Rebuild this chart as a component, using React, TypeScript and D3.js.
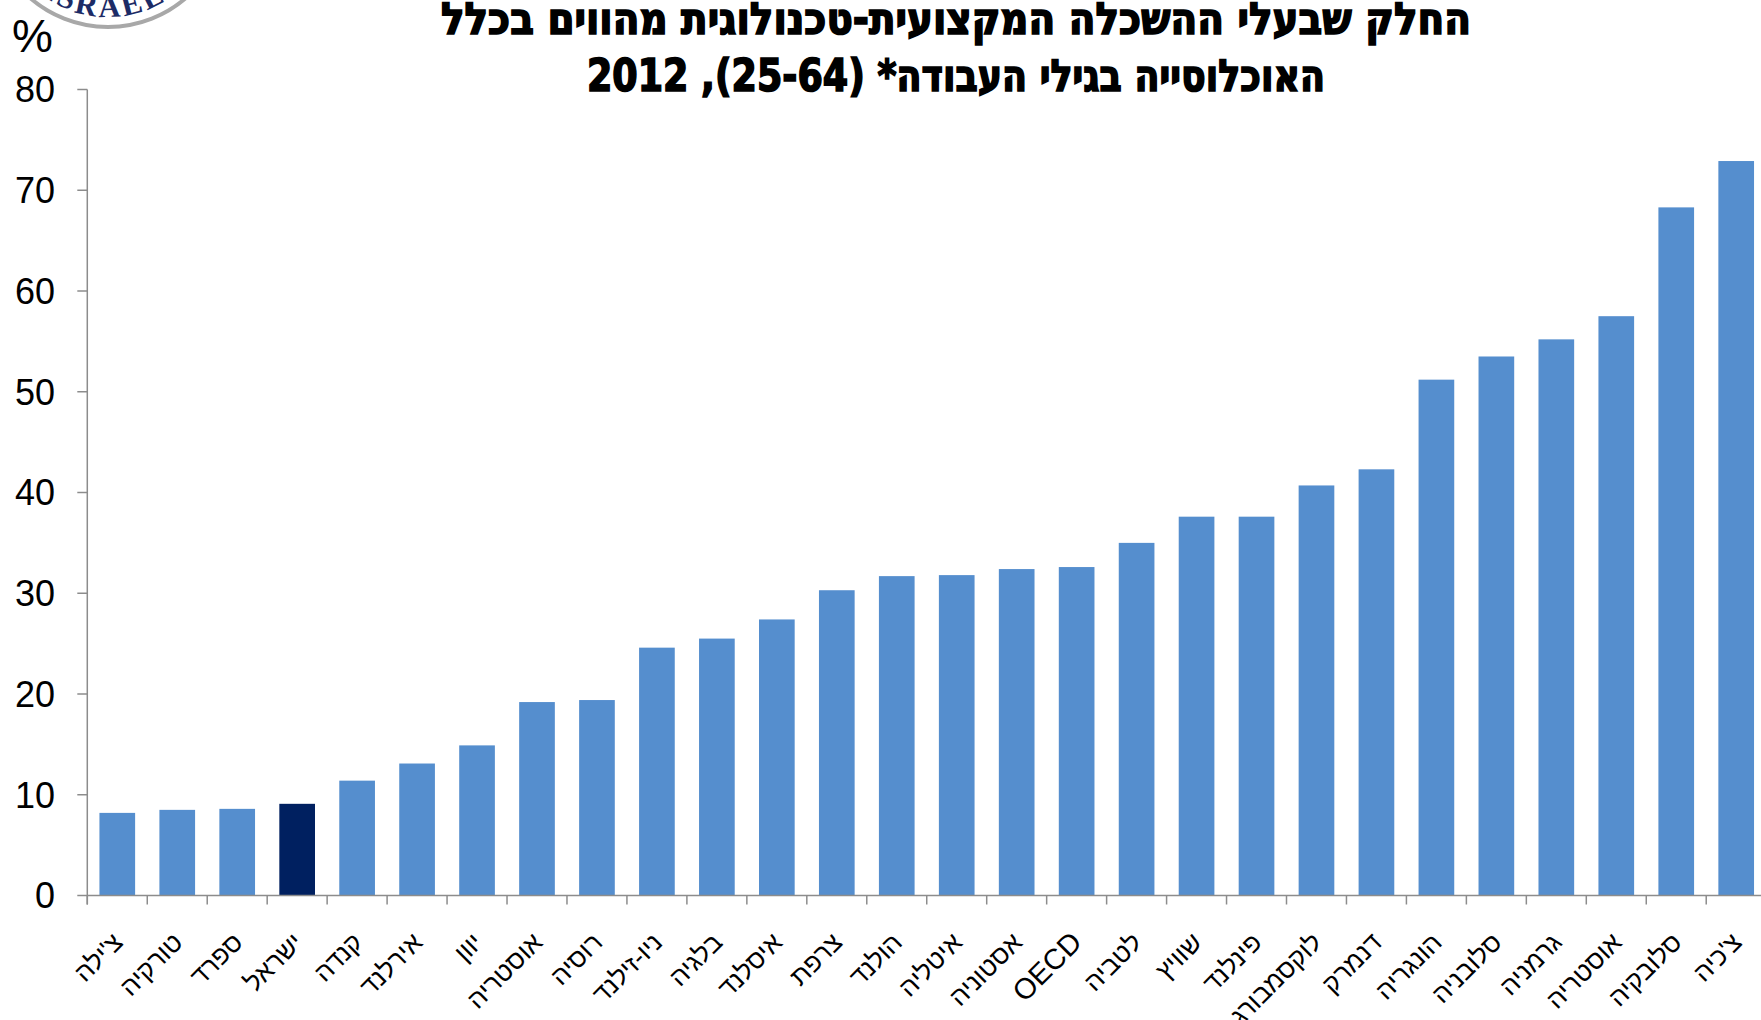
import { useEffect, useRef } from 'react';
import * as d3 from 'd3';

const countries = [
  "צ'ילה", 'טורקיה', 'ספרד', 'ישראל', 'קנדה', 'אירלנד', 'יוון', 'אוסטריה', 'רוסיה', 'ניו-זילנד',
  'בלגיה', 'איסלנד', 'צרפת', 'הולנד', 'איטליה', 'אסטוניה', 'OECD', 'לטביה', 'שוויץ', 'פינלנד',
  'לוקסמבורג', 'דנמרק', 'הונגריה', 'סלובניה', 'גרמניה', 'אוסטריה', 'סלובקיה', "צ'כיה",
];
const shares = [
  8.2, 8.5, 8.6, 9.1, 11.4, 13.1, 14.9, 19.2, 19.4, 24.6,
  25.5, 27.4, 30.3, 31.7, 31.8, 32.4, 32.6, 35.0, 37.6, 37.6,
  40.7, 42.3, 51.2, 53.5, 55.2, 57.5, 68.3, 72.9,
];
const highlight = 'ישראל';
const yTicks = [0, 10, 20, 30, 40, 50, 60, 70, 80];
const titleLines = [
  'החלק שבעלי ההשכלה המקצועית-טכנולוגית מהווים בכלל',
  'האוכלוסייה בגילי העבודה* (25-64), 2012',
];

export default function App() {
  const ref = useRef<SVGSVGElement>(null);

  useEffect(() => {
    const svg = d3.select(ref.current);
    svg.selectAll('*').remove();
    const W = 1761, H = 1020;
    const left = 87.3, bottom = 895.5, top = 89.5;
    const axisColor = '#8c8c8c';
    const font = '"Liberation Sans", Arial, "DejaVu Sans", sans-serif';

    svg.append('rect').attr('width', W).attr('height', H).attr('fill', '#fff');

    const idx = countries.map((_, i) => i);
    const x = d3.scaleBand<number>().domain(idx).range([left, left + 28 * 59.96]).paddingInner(0.405).paddingOuter(0.2025);
    const y = d3.scaleLinear().domain([0, 80]).range([bottom, top]);

    // seal in the corner
    const logo = svg.append('g');
    logo.append('circle').attr('cx', 108).attr('cy', -92).attr('r', 119)
      .attr('fill', '#fff').attr('stroke', '#a8a8a8').attr('stroke-width', 4);
    const rr = 109;
    svg.append('defs').append('path').attr('id', 'sealArc')
      .attr('d', `M ${108 - rr},-92 A ${rr} ${rr} 0 0 0 ${108 + rr},-92`);
    logo.append('text').attr('font-family', '"Liberation Serif", serif').attr('font-size', 31)
      .attr('font-weight', 'bold').attr('fill', '#1c2b66').attr('letter-spacing', 3)
      .append('textPath').attr('href', '#sealArc').attr('startOffset', '49%').attr('text-anchor', 'middle')
      .text('ISRAEL');

    // title
    const title = svg.append('g');
    const lens = [1030, 738];
    const ys = [34, 91];
    titleLines.forEach((t, i) => {
      title.append('text').attr('x', 956).attr('y', ys[i]).attr('text-anchor', 'middle')
        .attr('direction', 'rtl')
        .attr('font-family', '"DejaVu Sans Condensed", "DejaVu Sans", sans-serif')
        .attr('font-weight', 'bold').attr('font-size', 44).attr('fill', '#000')
        .attr('stroke', '#000').attr('stroke-width', 1.6)
        .attr('textLength', lens[i]).attr('lengthAdjust', 'spacingAndGlyphs')
        .text(t);
    });

    // bars
    svg.append('g').selectAll('rect').data(idx).enter().append('rect')
      .attr('x', d => x(d)!).attr('width', x.bandwidth())
      .attr('y', d => y(shares[d])).attr('height', d => bottom - y(shares[d]))
      .attr('fill', d => countries[d] === highlight ? '#002060' : '#558ECE');

    // y axis
    const ya = svg.append('g');
    ya.append('line').attr('x1', left).attr('x2', left).attr('y1', top).attr('y2', bottom + 9)
      .attr('stroke', axisColor).attr('stroke-width', 1.5);
    yTicks.forEach(t => {
      ya.append('line').attr('x1', left - 10).attr('x2', left).attr('y1', y(t)).attr('y2', y(t))
        .attr('stroke', axisColor).attr('stroke-width', 1.5);
      ya.append('text').attr('x', 55).attr('y', y(t)).attr('dy', '0.36em').attr('text-anchor', 'end')
        .attr('font-family', font).attr('font-size', 36).attr('fill', '#000').text(t);
    });
    svg.append('text').attr('x', 12).attr('y', 52).attr('font-family', font).attr('font-size', 46)
      .attr('fill', '#000').text('%');

    // x axis
    const xa = svg.append('g');
    xa.append('line').attr('x1', left).attr('x2', W).attr('y1', bottom).attr('y2', bottom)
      .attr('stroke', axisColor).attr('stroke-width', 1.5);
    const step = x.step();
    d3.range(0, 29).forEach(i => {
      const xx = left + i * step;
      xa.append('line').attr('x1', xx).attr('x2', xx).attr('y1', bottom).attr('y2', bottom + 9)
        .attr('stroke', axisColor).attr('stroke-width', 1.5);
    });
    idx.forEach(i => {
      const cx = x(i)! + x.bandwidth() / 2 + 7;
      const latin = /^[A-Z]+$/.test(countries[i]);
      xa.append('text').attr('transform', `translate(${cx},944) rotate(-45)`)
        .attr('text-anchor', 'end').attr('font-family', font).attr('font-size', latin ? 29 : 26)
        .attr('fill', '#000')
        .text(countries[i]);
    });
  }, []);

  return (
    <svg ref={ref} width={1761} height={1020} style={{ position: 'absolute', left: 0, top: 0 }} />
  );
}
